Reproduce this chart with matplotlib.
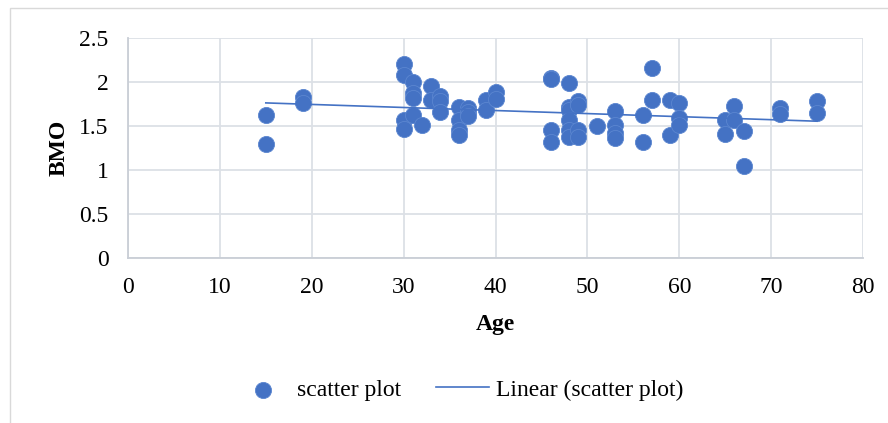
import matplotlib
matplotlib.use("Agg")
import matplotlib.pyplot as plt  # noqa: E402
import numpy as np  # noqa: E402
from matplotlib.patches import Rectangle  # noqa: E402

# values
age = [15, 15, 19, 19,
       30, 30, 30, 30, 31, 31, 31, 31, 32, 33, 33, 34, 34, 34,
       36, 36, 36, 36, 37, 37, 37, 39, 39, 40, 40,
       46, 46, 46, 46, 48, 48, 48, 48, 48, 48, 49, 49, 49, 49,
       51, 53, 53, 53, 53, 56, 56, 57, 57, 59, 59, 60, 60, 60,
       65, 65, 66, 66, 67, 67, 71, 71, 75, 75]
bmo = [1.62, 1.30, 1.83, 1.76,
       2.20, 2.08, 1.57, 1.47, 2.00, 1.87, 1.82, 1.62, 1.51, 1.95, 1.80, 1.84, 1.78, 1.66,
       1.72, 1.57, 1.45, 1.40, 1.71, 1.66, 1.61, 1.80, 1.68, 1.89, 1.81,
       2.05, 2.03, 1.46, 1.32, 1.99, 1.72, 1.68, 1.57, 1.45, 1.38, 1.78, 1.74, 1.45, 1.37,
       1.50, 1.67, 1.51, 1.42, 1.36, 1.62, 1.32, 2.16, 1.80, 1.80, 1.40, 1.76, 1.59, 1.51,
       1.57, 1.41, 1.73, 1.57, 1.44, 1.05, 1.70, 1.64, 1.78, 1.65]

x_ticks = [0, 10, 20, 30, 40, 50, 60, 70, 80]
y_ticks = [0, 0.5, 1, 1.5, 2, 2.5]
y_tick_labels = ["0", "0.5", "1", "1.5", "2", "2.5"]

blue = "#4472C4"
grid_col = "#DCE0E6"
fs = 17

plt.rcParams["font.family"] = ["Liberation Serif", "DejaVu Serif"]

fig = plt.figure(figsize=(8.88, 4.23), dpi=100)
ax = fig.add_axes([128 / 888, 1 - 258 / 423, (863 - 128) / 888, (258 - 38) / 423])

ax.scatter(age, bmo, s=135, color=blue, edgecolors="#5B86D0", linewidths=0.6,
           zorder=3, label="scatter plot")

# linear trendline from the data
slope, intercept = np.polyfit(age, bmo, 1)
xs = np.array([min(age), max(age)])
ax.plot(xs, slope * xs + intercept, color=blue, lw=1.2, zorder=4,
        label="Linear (scatter plot)")

ax.set_xlim(0, 80)
ax.set_ylim(0, 2.5)
ax.set_xticks(x_ticks)
ax.set_yticks(y_ticks)
ax.set_yticklabels(y_tick_labels)
ax.grid(True, color=grid_col, lw=1.3, zorder=0)
ax.set_axisbelow(True)
for side in ["top", "right"]:
    ax.spines[side].set_visible(False)
for side in ["left", "bottom"]:
    ax.spines[side].set_color("#C9CED6")
    ax.spines[side].set_linewidth(1.3)
ax.tick_params(length=0, labelsize=fs, colors="black")
ax.tick_params(axis="x", pad=14)
ax.tick_params(axis="y", pad=14)

ax.set_xlabel("Age", fontsize=fs, fontweight="bold", labelpad=11)
ax.set_ylabel("BMO", fontsize=fs, fontweight="bold", labelpad=7)

fig.legend(loc="center", bbox_to_anchor=(460 / 888, 1 - 390 / 423), ncol=2,
           frameon=False, fontsize=fs, handlelength=2.25, handletextpad=0.3,
           columnspacing=1.5)

fig.add_artist(Rectangle((10 / 888, -0.05), 1.0, 1.05 - 8 / 423,
                         transform=fig.transFigure, fill=False,
                         edgecolor="#D9D9D9", lw=1.0))

fig.savefig("out.png", dpi=100)
